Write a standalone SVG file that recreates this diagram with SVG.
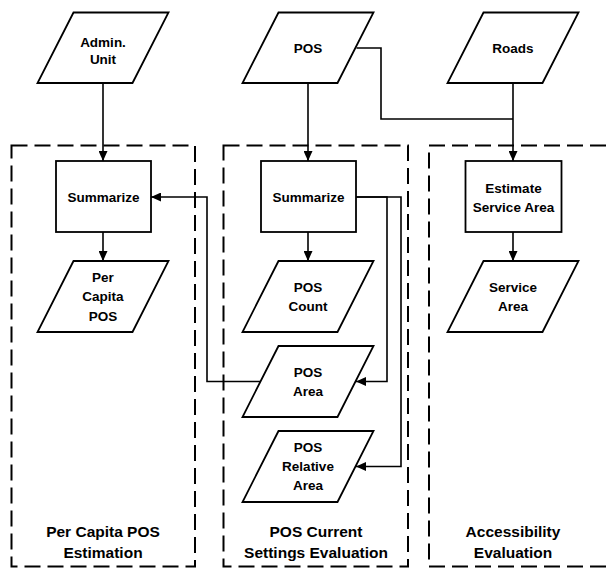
<svg xmlns="http://www.w3.org/2000/svg" width="611" height="569" viewBox="0 0 611 569">
  <style>
    .group { fill: none; stroke: #000; stroke-width: 2; stroke-dasharray: 16 7; }
    .node { fill: #fff; stroke: #000; stroke-width: 1.8; stroke-linejoin: miter; }
    .edge { fill: none; stroke: #000; stroke-width: 1.6; }
    .t { font-family: "Liberation Sans", Arial, sans-serif; font-weight: bold; font-size: 13.5px; text-anchor: middle; fill: #000; }
    .gl { font-family: "Liberation Sans", Arial, sans-serif; font-weight: bold; font-size: 15.5px; text-anchor: middle; fill: #000; }
  </style>
  <defs>
    <marker id="arrow" markerWidth="10" markerHeight="9" refX="10" refY="4.5" orient="auto" markerUnits="userSpaceOnUse">
      <path d="M0,0 L10,4.5 L0,9 z" fill="#000"/>
    </marker>
  </defs>

  <rect width="611" height="569" fill="#fff"/>

  <!-- processing stages -->
  <g id="stage-per-capita">
    <rect class="group" x="11.5" y="145.5" width="183.5" height="421"/>
    <text class="gl" x="103" y="536.5">Per Capita POS</text>
    <text class="gl" x="103" y="558">Estimation</text>
  </g>
  <g id="stage-current-settings">
    <rect class="group" x="223.5" y="145.5" width="184.5" height="421"/>
    <text class="gl" x="316" y="536.5">POS Current</text>
    <text class="gl" x="316" y="558">Settings Evaluation</text>
  </g>
  <g id="stage-accessibility">
    <rect class="group" x="429" y="145.5" width="200" height="421"/>
    <text class="gl" x="513" y="536.5">Accessibility</text>
    <text class="gl" x="513" y="558">Evaluation</text>
  </g>

  <!-- connectors -->
  <g id="connectors">
    <path class="edge" d="M103,83 V161" marker-end="url(#arrow)"/>
    <path class="edge" d="M308,83 V161" marker-end="url(#arrow)"/>
    <path class="edge" d="M513,83 V161" marker-end="url(#arrow)"/>
    <path class="edge" d="M356.5,48 H381 V119 H513"/>
    <path class="edge" d="M103,232 V261" marker-end="url(#arrow)"/>
    <path class="edge" d="M308,232 V261" marker-end="url(#arrow)"/>
    <path class="edge" d="M513,232 V261" marker-end="url(#arrow)"/>
    <path class="edge" d="M356,197 H387 V381.5 H356" marker-end="url(#arrow)"/>
    <path class="edge" d="M356,197 H401 V466.5 H356" marker-end="url(#arrow)"/>
    <path class="edge" d="M260,381.5 H207 V197 H151" marker-end="url(#arrow)"/>
  </g>

  <!-- inputs -->
  <g id="admin-unit">
    <polygon class="node" points="73.5,12.5 168.5,12.5 132.5,83 37.5,83"/>
    <text class="t" x="103" y="46.5">Admin.</text>
    <text class="t" x="103" y="64">Unit</text>
  </g>
  <g id="pos">
    <polygon class="node" points="278.5,12.5 373.5,12.5 337.5,83 242.5,83"/>
    <text class="t" x="308" y="53">POS</text>
  </g>
  <g id="roads">
    <polygon class="node" points="483.5,12.5 578.5,12.5 542.5,83 447.5,83"/>
    <text class="t" x="513" y="53">Roads</text>
  </g>

  <!-- processes -->
  <g id="summarize-capita">
    <rect class="node" x="56" y="161" width="95" height="71"/>
    <text class="t" x="103.5" y="201.5">Summarize</text>
  </g>
  <g id="summarize-pos">
    <rect class="node" x="261" y="161" width="95" height="71"/>
    <text class="t" x="308.5" y="201.5">Summarize</text>
  </g>
  <g id="estimate-service-area">
    <rect class="node" x="465.5" y="161" width="96" height="71"/>
    <text class="t" x="513.5" y="192.5">Estimate</text>
    <text class="t" x="513.5" y="211.5">Service Area</text>
  </g>

  <!-- outputs -->
  <g id="per-capita-pos">
    <polygon class="node" points="73.5,261 168.5,261 132.5,332 37.5,332"/>
    <text class="t" x="103" y="281.5">Per</text>
    <text class="t" x="103" y="301">Capita</text>
    <text class="t" x="103" y="320.5">POS</text>
  </g>
  <g id="pos-count">
    <polygon class="node" points="278.5,261 373.5,261 337.5,332 242.5,332"/>
    <text class="t" x="308" y="291.5">POS</text>
    <text class="t" x="308" y="310.5">Count</text>
  </g>
  <g id="service-area">
    <polygon class="node" points="483.5,261 578.5,261 542.5,332 447.5,332"/>
    <text class="t" x="513" y="291.5">Service</text>
    <text class="t" x="513" y="310.5">Area</text>
  </g>
  <g id="pos-area">
    <polygon class="node" points="278.5,346 373.5,346 337.5,417 242.5,417"/>
    <text class="t" x="308" y="377">POS</text>
    <text class="t" x="308" y="396">Area</text>
  </g>
  <g id="pos-relative-area">
    <polygon class="node" points="278.5,431 373.5,431 337.5,502 242.5,502"/>
    <text class="t" x="308" y="452">POS</text>
    <text class="t" x="308" y="471">Relative</text>
    <text class="t" x="308" y="490">Area</text>
  </g>
</svg>
